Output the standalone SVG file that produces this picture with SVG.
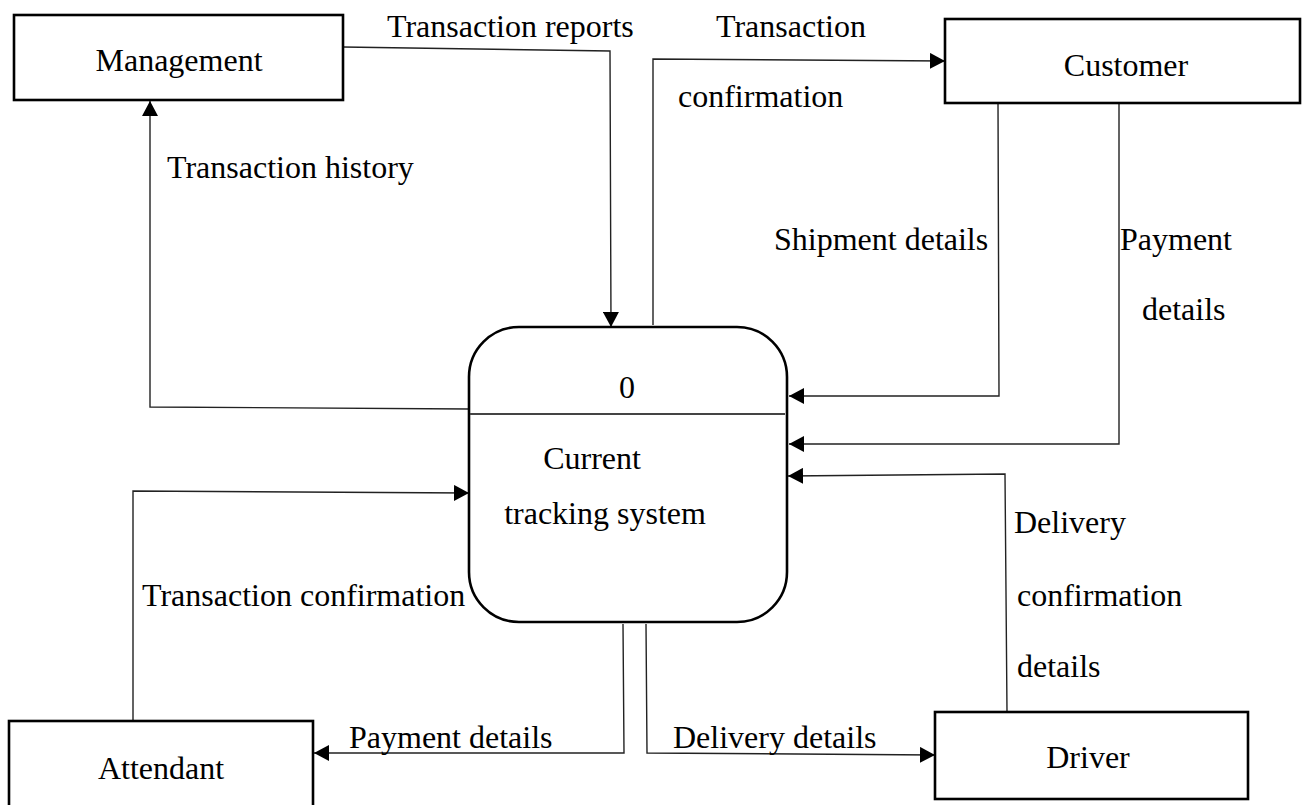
<svg xmlns="http://www.w3.org/2000/svg" width="1312" height="805" viewBox="0 0 1312 805">
<style>
text{font-family:"Liberation Serif","Times New Roman",serif;font-size:32px;fill:#000}
.box{fill:#fff;stroke:#000;stroke-width:2.6}
.proc{fill:#fff;stroke:#000;stroke-width:2.6}
.div{stroke:#444;stroke-width:2}
.c{fill:none;stroke:#222;stroke-width:1.4;marker-end:url(#ah)}
.m{text-anchor:middle}
</style>
<defs>
<marker id="ah" markerUnits="userSpaceOnUse" markerWidth="16" markerHeight="16" refX="15" refY="8" orient="auto">
<path d="M0,0 L15,8 L0,16 Z" fill="#000"/>
</marker>
</defs>
<rect width="1312" height="805" fill="#fff"/>
<g id="connectors">
<path class="c" d="M343,47 L610,51 L611,327"/>
<path class="c" d="M469,409 L150,407 L150,101"/>
<path class="c" d="M653,325 L653,59 L945,61"/>
<path class="c" d="M998,103 L999,396 L789,396"/>
<path class="c" d="M1119,103 L1119,444 L789,444"/>
<path class="c" d="M1007,711 L1005,474 L788,476"/>
<path class="c" d="M133,721 L133,491 L469,493"/>
<path class="c" d="M623,624 L624,753 L314,753"/>
<path class="c" d="M646,624 L647,753 L935,755"/>
</g>
<g id="labels">
<text x="387" y="37">Transaction reports</text>
<text x="167" y="178">Transaction history</text>
<text x="716" y="37">Transaction</text>
<text x="678" y="107">confirmation</text>
<text x="774" y="250">Shipment details</text>
<text x="1120" y="250">Payment</text>
<text x="1142" y="320">details</text>
<text x="1014" y="533">Delivery</text>
<text x="1017" y="606">confirmation</text>
<text x="1017" y="677">details</text>
<text x="142" y="606">Transaction confirmation</text>
<text x="349" y="748">Payment details</text>
<text x="673" y="748">Delivery details</text>
</g>
<g id="management">
<rect class="box" x="14" y="15" width="329" height="85"/>
<text class="m" x="179" y="71">Management</text>
</g>
<g id="customer">
<rect class="box" x="945" y="19" width="355" height="84"/>
<text class="m" x="1126" y="76">Customer</text>
</g>
<g id="process">
<rect class="proc" x="469" y="327" width="318" height="295" rx="50" ry="50"/>
<line class="div" x1="470" y1="414" x2="785" y2="414"/>
<text class="m" x="627" y="398">0</text>
<text class="m" x="592" y="469">Current</text>
<text class="m" x="605" y="524">tracking system</text>
</g>
<g id="attendant">
<rect class="box" x="9" y="721" width="304" height="100"/>
<text class="m" x="161" y="779">Attendant</text>
</g>
<g id="driver">
<rect class="box" x="935" y="712" width="313" height="87"/>
<text class="m" x="1088" y="768">Driver</text>
</g>
</svg>
